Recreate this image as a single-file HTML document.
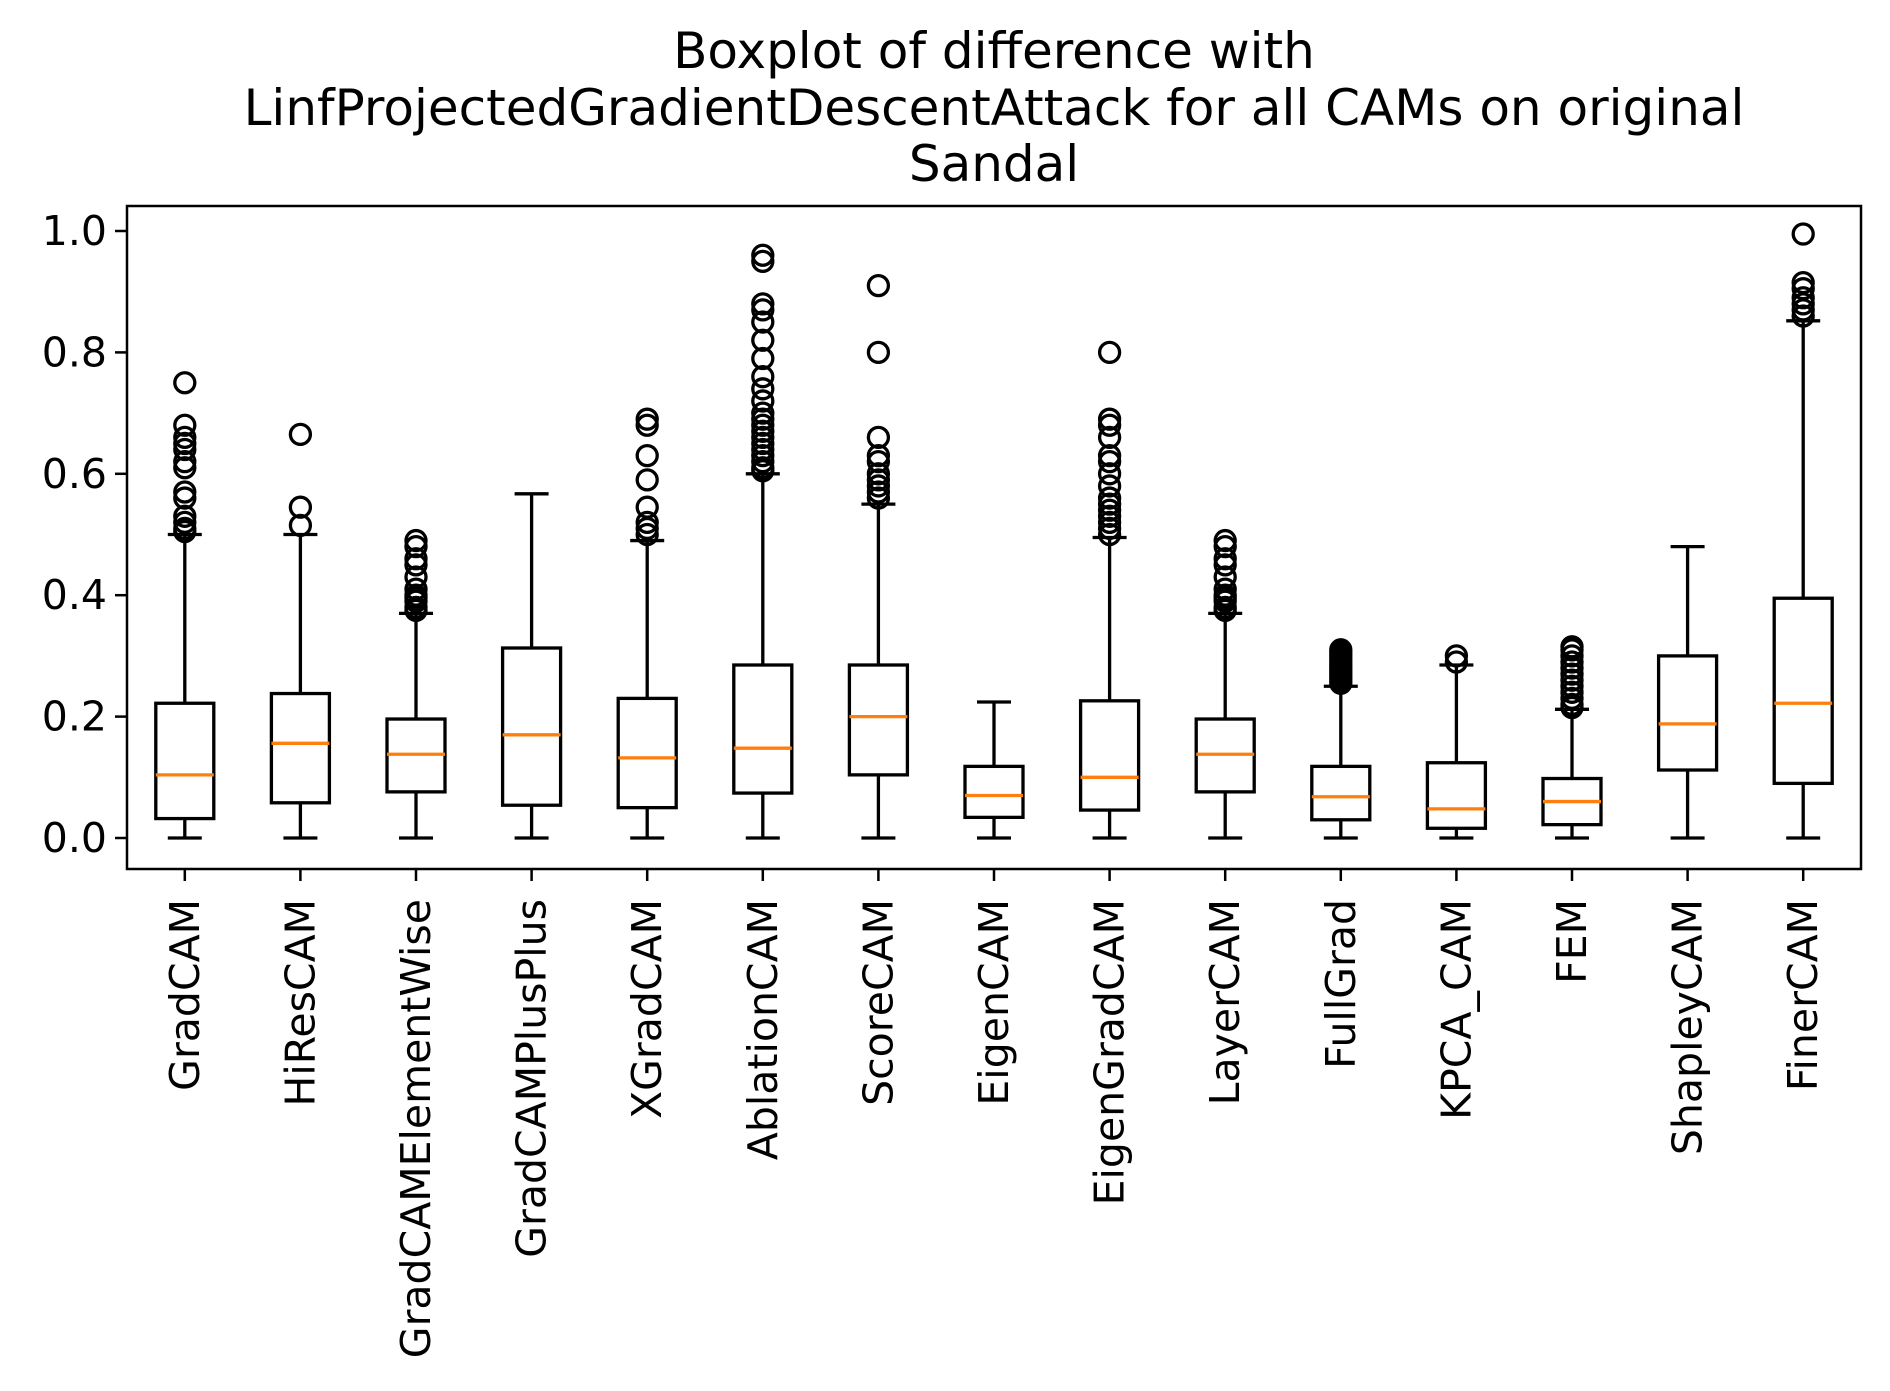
<!DOCTYPE html>
<html><head><meta charset="utf-8"><style>
html,body{margin:0;padding:0;background:#fff;}
svg{display:block;font-family:"DejaVu Sans","Liberation Sans",sans-serif;}
</style></head><body>
<svg id="chart" width="1890" height="1391" viewBox="0 0 1890 1391" xmlns="http://www.w3.org/2000/svg">
<rect width="1890" height="1391" fill="#fff"/>
<g font-size="50" text-anchor="middle" fill="#000">
<text x="994" y="68">Boxplot of difference with</text>
<text x="994" y="125">LinfProjectedGradientDescentAttack for all CAMs on original</text>
<text x="994" y="181">Sandal</text>
</g>
<g id="plot"></g>
</svg>
<script>
const categories = ["GradCAM","HiResCAM","GradCAMElementWise","GradCAMPlusPlus","XGradCAM","AblationCAM","ScoreCAM","EigenCAM","EigenGradCAM","LayerCAM","FullGrad","KPCA_CAM","FEM","ShapleyCAM","FinerCAM"];
const whiskerLow = [0,0,0,0,0,0,0,0,0,0,0,0,0,0,0];
const q1Values = [0.032,0.058,0.076,0.054,0.05,0.074,0.104,0.034,0.046,0.076,0.03,0.016,0.022,0.112,0.09];
const medians = [0.104,0.156,0.138,0.17,0.132,0.148,0.2,0.07,0.1,0.138,0.068,0.048,0.06,0.188,0.222];
const q3Values = [0.222,0.238,0.196,0.313,0.23,0.285,0.285,0.118,0.226,0.196,0.118,0.124,0.098,0.3,0.395];
const whiskerHigh = [0.50,0.50,0.37,0.567,0.49,0.60,0.55,0.224,0.495,0.37,0.25,0.285,0.212,0.48,0.852];
const outliers = [
 [0.75,0.68,0.66,0.65,0.64,0.62,0.61,0.57,0.56,0.53,0.52,0.51,0.505],
 [0.665,0.545,0.515],
 [0.49,0.48,0.46,0.45,0.43,0.41,0.40,0.395,0.39,0.38,0.375],
 [],
 [0.69,0.68,0.63,0.59,0.545,0.52,0.51,0.50],
 [0.96,0.95,0.88,0.87,0.85,0.82,0.79,0.76,0.74,0.72,0.70,0.69,0.68,0.67,0.66,0.65,0.64,0.63,0.62,0.61,0.605],
 [0.91,0.80,0.66,0.63,0.62,0.60,0.59,0.58,0.57,0.56],
 [],
 [0.80,0.69,0.68,0.66,0.63,0.62,0.60,0.58,0.56,0.55,0.54,0.53,0.52,0.51,0.50],
 [0.49,0.48,0.46,0.45,0.43,0.41,0.40,0.395,0.39,0.38,0.375],
 [0.31,0.305,0.30,0.295,0.29,0.285,0.28,0.275,0.27,0.265,0.26,0.255],
 [0.30,0.29],
 [0.315,0.31,0.30,0.29,0.28,0.27,0.26,0.25,0.24,0.23,0.22,0.215],
 [],
 [0.995,0.915,0.905,0.89,0.88,0.87,0.86]
];
const yTicks = [0.0,0.2,0.4,0.6,0.8,1.0];
const yTickLabels = ["0.0","0.2","0.4","0.6","0.8","1.0"];

const NS = "http://www.w3.org/2000/svg";
const L = 127, R = 1861, T = 206, B = 869;
const xScale = i => L + (i + 0.5) * (R - L) / categories.length;
const yScale = v => 838 - v * 607;
const plot = document.getElementById('plot');
function mk(tag, attrs, parent) {
  const e = document.createElementNS(NS, tag);
  for (const k in attrs) e.setAttribute(k, attrs[k]);
  (parent || plot).appendChild(e);
  return e;
}
const lw = 3.3, hw = 29, cw = 17;
categories.forEach((c, i) => {
  const x = xScale(i);
  const g = mk('g', {});
  
  
  const s = {stroke:'#000','stroke-width':lw,fill:'none'};
  mk('line', Object.assign({x1:x,x2:x,y1:yScale(whiskerLow[i]),y2:yScale(q1Values[i])}, s), g);
  mk('line', Object.assign({x1:x,x2:x,y1:yScale(q3Values[i]),y2:yScale(whiskerHigh[i])}, s), g);
  mk('line', Object.assign({x1:x-cw,x2:x+cw,y1:yScale(whiskerLow[i]),y2:yScale(whiskerLow[i])}, s), g);
  mk('line', Object.assign({x1:x-cw,x2:x+cw,y1:yScale(whiskerHigh[i]),y2:yScale(whiskerHigh[i])}, s), g);
  mk('rect', Object.assign({x:x-hw,y:yScale(q3Values[i]),width:2*hw,height:yScale(q1Values[i])-yScale(q3Values[i])}, s), g);
  mk('line', {x1:x-hw,x2:x+hw,y1:yScale(medians[i]),y2:yScale(medians[i]),stroke:'#ff7f0e','stroke-width':lw}, g);
  outliers[i].forEach(v => {
    const o = mk('circle', {cx:x,cy:yScale(v),r:10,fill:'none',stroke:'#000','stroke-width':lw}, g);
    
    
  });
  mk('line', {x1:x,x2:x,y1:B,y2:B+12,stroke:'#000','stroke-width':2.5}, g);
  const t = mk('text', {x:0,y:0,'font-size':41,'text-anchor':'end','dominant-baseline':'central',transform:`translate(${x},${B+30}) rotate(-90)`});
  t.textContent = c;
  
  
});
yTicks.forEach((v, i) => {
  const y = yScale(v);
  mk('line', {x1:L-12,x2:L,y1:y,y2:y,stroke:'#000','stroke-width':2.5});
  const t = mk('text', {x:L-20,y:y,'font-size':41,'text-anchor':'end','dominant-baseline':'central'});
  t.textContent = yTickLabels[i];
  
  
});
const frame = mk('rect', {x:L,y:T,width:R-L,height:B-T,fill:'none',stroke:'#000','stroke-width':2.5});


</script>
</body></html>
